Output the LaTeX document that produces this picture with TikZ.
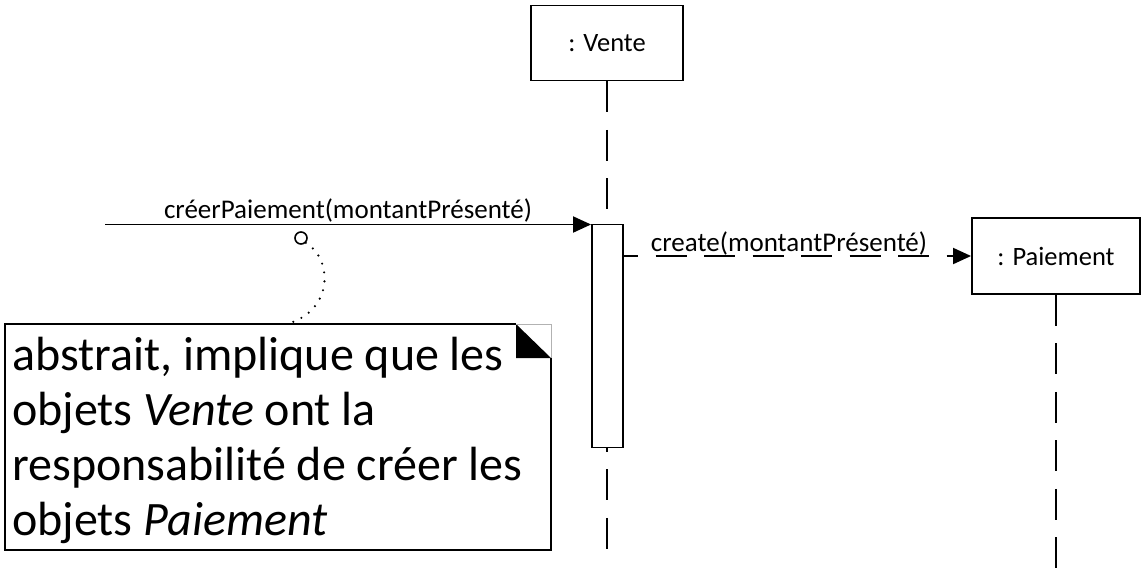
\documentclass[tikz,border=0pt]{standalone}
\usepackage{fontspec}
\setmainfont{Carlito}
\usetikzlibrary{arrows.meta}
\begin{document}
\begin{tikzpicture}[x=1pt,y=-1pt,
  lw/.style={line width=1.9pt},
  obj/.style={draw, lw, fill=white, rectangle, inner sep=0pt, font=\fontsize{26.5}{30}\selectfont},
  lifeline/.style={lw, dash pattern=on 31pt off 17.5pt},
  msg/.style={lw, -{Triangle[length=18pt,width=16pt]}},
  lbl/.style={font=\fontsize{27}{30}\selectfont, anchor=base, inner sep=0pt},
  notetext/.style={anchor=north west, align=left, inner sep=0pt, font=\fontsize{48}{55}\selectfont},
  dots/.style={line width=2.4pt, line cap=round, dash pattern=on 0pt off 9pt},
]
\useasboundingbox (0,0) rectangle (1142,571);
% objects
\node[obj, minimum width=152pt, minimum height=75pt] (vente) at (607,43) {: Vente};
\node[obj, minimum width=168pt, minimum height=76pt] (paie) at (1056,256) {: Paiement};
% lifelines
\coordinate (vEnd) at (607,549);
\coordinate (pEnd) at (1056,571);
\draw[lifeline] (vente.south) -- (vEnd);
\draw[lifeline] (paie.south) -- (pEnd);
% create message
\coordinate (cStart) at (607,256);
\draw[msg, dash pattern=on 31pt off 17.5pt] (cStart) -- node[lbl, yshift=5pt] {create(montantPrésenté)} (paie.west);
% activation
\node[draw, lw, fill=white, rectangle, inner sep=0pt, minimum width=31pt, minimum height=223pt] (act) at (607.5,336) {};
% found message
\coordinate (m1) at (105,224.5);
\draw[msg] (m1) -- node[lbl, yshift=6pt] {créerPaiement(montantPrésenté)} (m1 -| act.west);
% note
\draw[lw] (516,324) -- (5,324) -- (5,550) -- (551,550) -- (551,358);
\fill (516,324) -- (551,358) -- (516,358) -- cycle;
\draw[black!30, line width=0.8pt] (516,324) -- (551,324) -- (551,358);
\node[notetext] (note) at (12,337) {abstrait, implique que les\\ objets \textit{Vente} ont la\\ responsabilité de créer les\\ objets \textit{Paiement}};
% attachment
\node[draw, circle, line width=1.6pt, minimum size=12pt, inner sep=0pt] (circ) at (301,238) {};
\coordinate (nTop) at (287,324);
\draw[dots] (circ.south east) .. controls (332,258) and (335,310) .. (nTop);
\end{tikzpicture}
\end{document}
